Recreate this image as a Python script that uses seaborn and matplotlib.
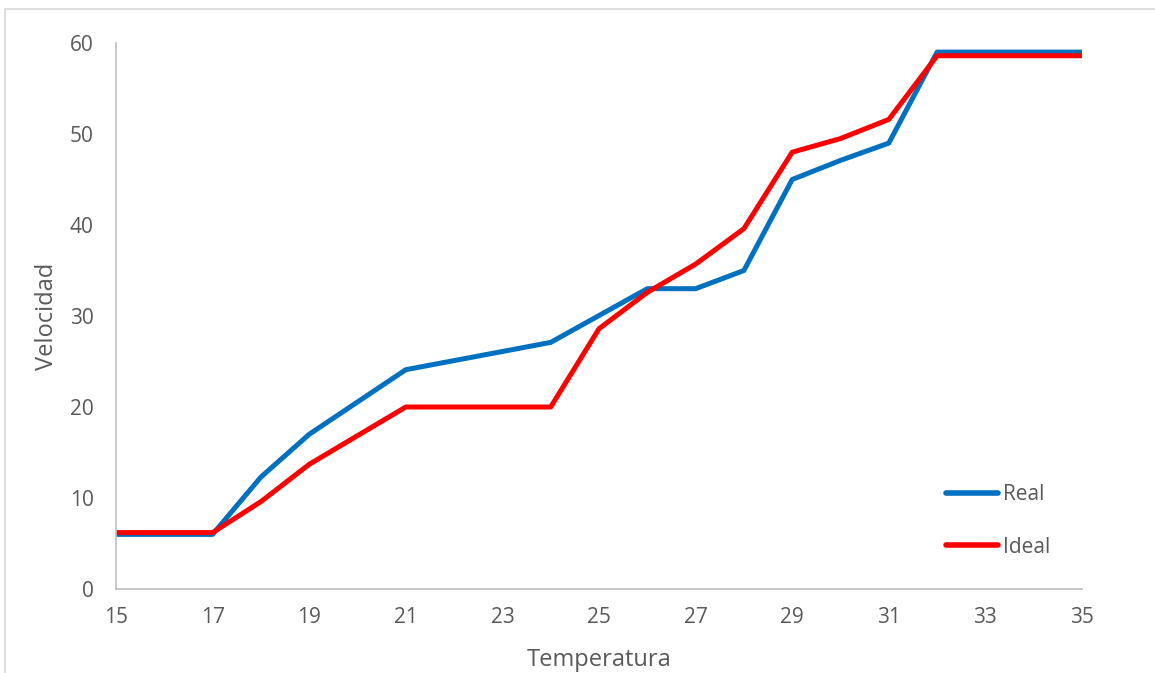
import matplotlib
matplotlib.use("Agg")
import matplotlib.pyplot as plt
import seaborn as sns
import pandas as pd
from matplotlib.patches import Rectangle

# Measured series
temp_real = [15, 17, 18, 19, 21, 24, 26, 27, 28, 29, 30, 31, 32, 35]
vel_real = [6, 6, 12.3, 17, 24.1, 27.1, 33, 33, 35, 45, 47.1, 49, 59, 59]

temp_ideal = [15, 17, 18, 19, 21, 24, 25, 26, 27, 28, 29, 30, 31, 32, 35]
vel_ideal = [6.2, 6.2, 9.6, 13.7, 20, 20, 28.6, 32.6, 35.7, 39.6, 48, 49.5, 51.6, 58.6, 58.6]

x_ticks = list(range(15, 36, 2))
y_ticks = [0, 10, 20, 30, 40, 50, 60]

series_names = ["Real", "Ideal"]
series_colors = ["#0070C0", "#FF0000"]

df = pd.concat([
    pd.DataFrame({"Temperatura": temp_real, "Velocidad": vel_real, "Serie": "Real"}),
    pd.DataFrame({"Temperatura": temp_ideal, "Velocidad": vel_ideal, "Serie": "Ideal"}),
], ignore_index=True)

sns.set_style("white")
plt.rcParams["font.family"] = ["Open Sans", "DejaVu Sans"]

text_color = "#595959"
fig = plt.figure(figsize=(11.55, 6.73), dpi=100)
ax = fig.add_axes([116 / 1155, 1 - 589 / 673, 966 / 1155, 546 / 673])

# Chart frame
fig.patches.append(Rectangle((5 / 1155, -0.1), 1.2, 1 - 9 / 673 + 0.1,
                             transform=fig.transFigure, fill=False,
                             edgecolor="#d9d9d9", linewidth=1.2, zorder=0))

sns.lineplot(data=df, x="Temperatura", y="Velocidad", hue="Serie",
             hue_order=series_names, palette=series_colors, sort=False,
             estimator=None, linewidth=3.6, ax=ax,
             solid_capstyle="round", solid_joinstyle="round")

ax.set_xlim(15, 35)
ax.set_ylim(0, 60)
ax.set_xticks(x_ticks)
ax.set_yticks(y_ticks)
ax.tick_params(axis="both", length=0, labelsize=15, labelcolor=text_color)
ax.tick_params(axis="x", pad=13)
ax.tick_params(axis="y", pad=16)

for side in ["top", "right"]:
    ax.spines[side].set_visible(False)
for side in ["left", "bottom"]:
    ax.spines[side].set_color("#bfbfbf")
    ax.spines[side].set_linewidth(1.2)

ax.set_xlabel("Temperatura", fontsize=17, color=text_color, labelpad=14)
ax.set_ylabel("Velocidad", fontsize=17, color=text_color, labelpad=8)

leg = ax.legend(loc="center left", bbox_to_anchor=(0.859, 0.1245), frameon=False,
                fontsize=15, handlelength=2.5, handletextpad=0.25,
                labelspacing=1.5, borderpad=0, borderaxespad=0)
for t in leg.get_texts():
    t.set_color(text_color)
for h in leg.get_lines():
    h.set_linewidth(4)
    h.set_solid_capstyle("round")

fig.savefig("out.png", dpi=100)
